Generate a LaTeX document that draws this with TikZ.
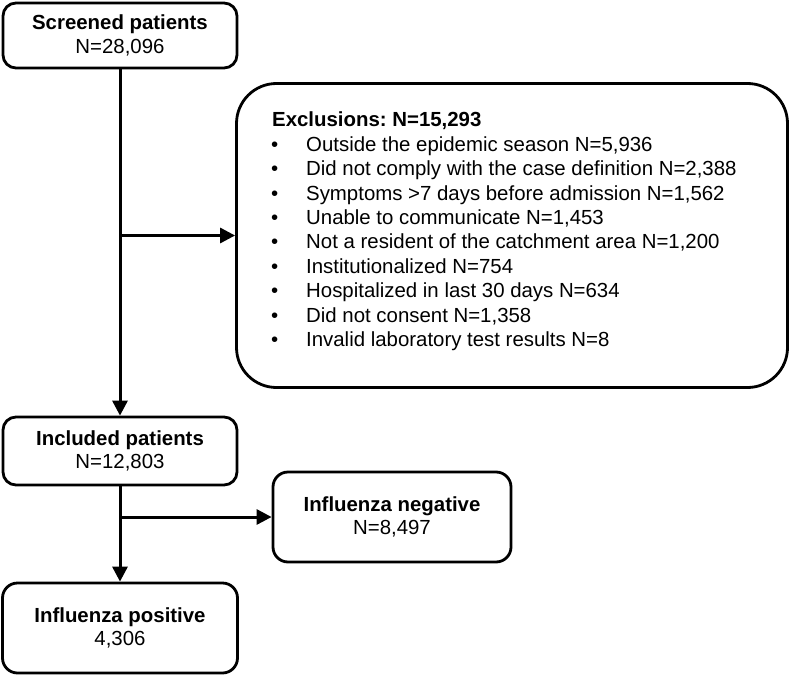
\documentclass[tikz,border=0pt]{standalone}
\usepackage{fontspec}
\setmainfont{Liberation Sans}
\usetikzlibrary{arrows.meta}
\frenchspacing
\begin{document}
\begin{tikzpicture}[x=1pt,y=-1pt,
  box/.style={draw=black,line width=2.8pt,rounded corners=13pt,inner sep=0pt,align=center,
    font=\fontsize{20.4}{23.5}\selectfont},
  conn/.style={line width=3pt,-{Triangle[length=15pt,width=15pt]}}]
\fill[white] (0,0) rectangle (789,674);
\useasboundingbox (0,0) rectangle (789,674);
\node[box,minimum width=234pt,minimum height=65pt] (screened) at (120,35.5)
  {\textbf{Screened patients}\\N=28,096};
\node[box,minimum width=551pt,minimum height=304pt,rounded corners=40pt] (excl) at (512,235.5) {};
\node[anchor=base west,inner sep=0pt,font=\fontsize{20.4}{24.4}\selectfont] (excltext) at (272,127)
  {\parbox[t]{500pt}{\raggedright
  \textbf{Exclusions: N=15,293}\\
  \makebox[34pt][l]{\hspace*{-1pt}•}Outside the epidemic season N=5,936\\
  \makebox[34pt][l]{\hspace*{-1pt}•}Did not comply with the case definition N=2,388\\
  \makebox[34pt][l]{\hspace*{-1pt}•}Symptoms >7 days before admission N=1,562\\
  \makebox[34pt][l]{\hspace*{-1pt}•}Unable to communicate N=1,453\\
  \makebox[34pt][l]{\hspace*{-1pt}•}Not a resident of the catchment area N=1,200\\
  \makebox[34pt][l]{\hspace*{-1pt}•}Institutionalized N=754\\
  \makebox[34pt][l]{\hspace*{-1pt}•}Hospitalized in last 30 days N=634\\
  \makebox[34pt][l]{\hspace*{-1pt}•}Did not consent N=1,358\\
  \makebox[34pt][l]{\hspace*{-1pt}•}Invalid laboratory test results N=8}};
\node[box,minimum width=234pt,minimum height=68pt] (included) at (120,451)
  {\textbf{Included patients}\\N=12,803};
\node[box,minimum width=238pt,minimum height=90pt,rounded corners=15pt] (negative) at (392,517)
  {\textbf{Influenza negative}\\N=8,497};
\node[box,minimum width=235pt,minimum height=90pt,rounded corners=15pt] (positive) at (120,628)
  {\textbf{Influenza positive}\\4,306};
\coordinate (b1) at (screened.south |- excl.west);
\coordinate (b2) at (included.south |- negative.west);
\draw[conn] (screened.south) -- (included.north);
\draw[conn] (b1) -- (excl.west);
\draw[conn] (included.south) -- (positive.north);
\draw[conn] (b2) -- (negative.west);
\end{tikzpicture}
\end{document}
